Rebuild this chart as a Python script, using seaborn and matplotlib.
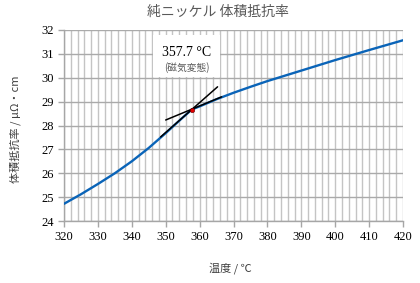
import matplotlib
matplotlib.use("Agg")
import matplotlib.pyplot as plt
import seaborn as sns
import pandas as pd
from matplotlib.patches import Rectangle
from matplotlib.ticker import MultipleLocator

# ---- data ----
temps = [320, 325, 330, 335, 340, 345, 350, 355, 357.7, 360, 365, 370, 375, 380, 390, 400, 410, 420]
resist = [24.72, 25.12, 25.55, 26.0, 26.5, 27.06, 27.68, 28.33, 28.67, 28.8, 29.1, 29.37, 29.62, 29.86, 30.3, 30.74, 31.16, 31.57]
tangent_steep_x = [348.5, 365.3]
tangent_steep_y = [27.52, 29.62]
tangent_flat_x = [350.0, 366.5]
tangent_flat_y = [28.23, 29.2]
curie_t = [357.7]
curie_r = [28.67]
x_ticks = [320, 330, 340, 350, 360, 370, 380, 390, 400, 410, 420]
y_ticks = [24, 25, 26, 27, 28, 29, 30, 31, 32]
title = "純ニッケル 体積抵抗率"
xlabel = "温度 / ℃"
ylabel = "体積抵抗率 / μΩ・cm"
note1 = "357.7 °C"
note2 = "(磁気変態)"

sns.set_theme(style="white")
plt.rcParams['font.family'] = ['Liberation Serif', 'Noto Sans CJK JP', 'DejaVu Sans']
cjk = ['Noto Sans CJK JP', 'DejaVu Sans']

df = pd.DataFrame({"temp": temps, "res": resist})

fig = plt.figure(figsize=(4.2, 2.83), dpi=100)
ax = fig.add_axes([64/420, (283-221)/283, 339/420, 191/283])

ax.set_xlim(320, 420)
ax.set_ylim(24, 32)
ax.xaxis.set_minor_locator(MultipleLocator(2))
ax.set_xticks(x_ticks)
ax.set_yticks(y_ticks)
ax.grid(which='both', axis='x', color='#c4c4c4', linewidth=1.0)
ax.grid(which='major', axis='y', color='#aaaaaa', linewidth=1.0)
ax.set_axisbelow(True)

for s in ['top', 'right']:
    ax.spines[s].set_visible(False)
for s in ['left', 'bottom']:
    ax.spines[s].set_color('#a6a6a6')
    ax.spines[s].set_linewidth(1.0)

ax.tick_params(axis='both', which='major', length=4, width=1, color='#a6a6a6',
               labelsize=9, labelcolor='black', pad=3, direction='out',
               bottom=True, left=True)
ax.tick_params(axis='x', which='minor', length=0)

sns.lineplot(data=df, x="temp", y="res", ax=ax, color='#0a64b8', linewidth=1.7, zorder=3)
ax.plot(tangent_steep_x, tangent_steep_y, color='black', linewidth=1.1, zorder=4)
ax.plot(tangent_flat_x, tangent_flat_y, color='black', linewidth=1.1, zorder=4)
ax.scatter(curie_t, curie_r, s=10, color='#e00000', edgecolor='#600000', linewidth=0.4, zorder=5)

ax.add_patch(Rectangle((0.2625, 0.754), 0.198, 0.22, transform=ax.transAxes,
                       facecolor='white', edgecolor='none', zorder=2.5))
ax.text(0.363, 0.88, note1, transform=ax.transAxes, ha='center', va='center',
        fontsize=10, color='black', zorder=6)
ax.text(0.363, 0.806, note2, transform=ax.transAxes, ha='center', va='center',
        fontsize=7, color='#595959', family=cjk, zorder=6)

ax.set_xlabel("")
ax.set_ylabel("")
fig.text(218/420, 1 - 12/283, title, ha='center', va='center', fontsize=10, color='#595959', family=cjk)
fig.text(230/420, 1 - 268/283, xlabel, ha='center', va='center', fontsize=8, color='#404040', family=cjk)
fig.text(15/420, 1 - 129/283, ylabel, ha='center', va='center', rotation=90, fontsize=8, color='#404040', family=cjk)

fig.savefig("out.png", dpi=100)
